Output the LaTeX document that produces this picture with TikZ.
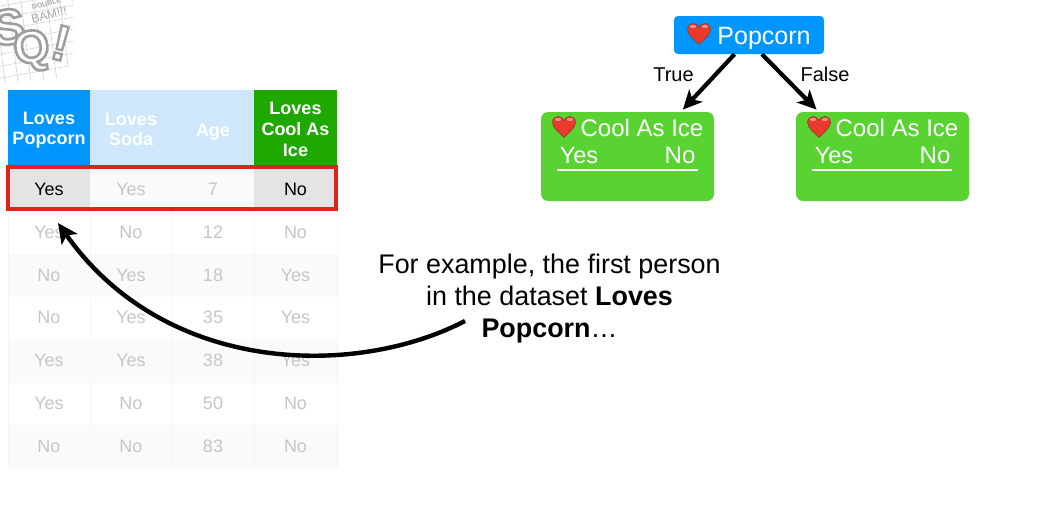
\documentclass[tikz,border=0pt]{standalone}
\usepackage{fontspec}
\setmainfont{Liberation Sans}
\usetikzlibrary{arrows.meta}
\definecolor{popblue}{HTML}{0096FF}
\definecolor{paleblue}{HTML}{CFE7FD}
\definecolor{hdgreen}{HTML}{1FA800}
\definecolor{nodegreen}{HTML}{58D332}
\definecolor{fadetxt}{HTML}{C6C6C6}
\definecolor{hlgrey}{HTML}{E4E4E4}
\definecolor{redbox}{HTML}{E3211B}
\definecolor{heartred}{HTML}{EA3A2C}
\definecolor{heartdark}{HTML}{8E3A30}
\definecolor{stripe}{HTML}{FAFAFA}
\definecolor{logogrey}{HTML}{A8A8A8}
\newcommand{\fs}[1]{\fontsize{#1}{#1}\selectfont}
\newcommand{\outlined}[2]{{\color{white}\special{pdf:code q 2 Tr #1 w 0.62 0.62 0.62 RG}#2\special{pdf:code Q}}}
\tikzset{
  cell/.style={minimum width=82pt,inner sep=0pt,anchor=center,text=fadetxt,font=\fs{18}},
  head/.style={minimum width=82pt,minimum height=75pt,inner sep=0pt,text=white,align=center,font=\bfseries\fs{18},text depth=0pt},
  root/.style={fill=popblue,rounded corners=4pt,minimum width=150pt,minimum height=38pt,inner sep=0pt,text=white,font=\fs{25},text height=18pt,text depth=0pt},
  leaf/.style={fill=nodegreen,rounded corners=7pt,minimum width=173pt,minimum height=89pt,inner sep=0pt},
  leaftxt/.style={text=white,inner sep=0pt,font=\fs{24}},
  edgelab/.style={inner sep=0pt,font=\fs{20}},
  branch/.style={line width=4.2pt,-{Stealth[length=19pt,width=18pt,inset=5pt]}},
  hearticon/.pic={
    \path[fill=heartred,draw=heartdark,line width=.6pt] (0,10.5) .. controls (-4,6) and (-11.5,1) .. (-11.5,-4.5) .. controls (-11.5,-8.5) and (-8.5,-10.5) .. (-6,-10.5) .. controls (-3.5,-10.5) and (-1,-9) .. (0,-6.5) .. controls (1,-9) and (3.5,-10.5) .. (6,-10.5) .. controls (8.5,-10.5) and (11.5,-8.5) .. (11.5,-4.5) .. controls (11.5,1) and (4,6) .. (0,10.5) -- cycle;
    \fill[white,opacity=.45] (-6,-7.5) ellipse (3.2pt and 1.5pt);
    \fill[white,opacity=.45] (6,-7.5) ellipse (3.2pt and 1.5pt);
  },
}
\begin{document}
\begin{tikzpicture}[x=1pt,y=-1pt]
\useasboundingbox (0,0) rectangle (1040,506);
\fill[white] (0,0) rectangle (1040,506);
% logo
\begin{scope}
\clip (4,-2) -- (73,-2) -- (73,60) -- (60,78) -- (2,84) -- (-2,84) -- (-2,0) -- cycle;
\foreach \k in {0,...,7}{
  \draw[logogrey!55,line width=.5pt] (-10,{8+\k*12}) -- (80,{-8+\k*12});
  \draw[logogrey!55,line width=.5pt] ({-6+\k*13},-6) -- ({6+\k*13},90);
}
\end{scope}
\node[rotate=8,inner sep=0pt] (logoS) at (8,27) {\bfseries\fs{50}\outlined{2.6}{S}};
\node[rotate=8,inner sep=0pt] (logoQ) at (32,51) {\bfseries\fs{46}\outlined{2.6}{Q}};
\node[rotate=-14,inner sep=0pt] (logoX) at (61,43) {\bfseries\fs{50}\outlined{2.4}{!}};
\node[rotate=14,inner sep=0pt,text=logogrey,align=center] (logoT) at (48,10) {\bfseries\fs{7}DOUBLE\\[1pt]\fs{12}BAM!!!};
% row stripes
\fill[stripe] (8,254) rectangle (337,296);
\fill[stripe] (8,339) rectangle (337,382);
\fill[stripe] (8,425) rectangle (337,467);
\foreach \x in {8,90,172,254,337}{\draw[black!4,line width=.6pt] (\x,211) -- (\x,467);}
\foreach \y in {254,296,339,382,425,467}{\draw[black!2,line width=.5pt] (8,\y) -- (337,\y);}
% header
\fill[popblue] (8,90) rectangle (90,165);
\fill[paleblue] (90,90) rectangle (254,165);
\fill[hdgreen] (254,90) rectangle (337,165);
\node[head] (h1) at (49,128) {Loves\\[2pt]Popcorn};
\node[head] (h2) at (131,129) {Loves\\[2pt]Soda};
\node[head] (h3) at (213,130) {Age};
\node[head] (h4) at (295.5,129.5) {Loves\\[3pt]Cool As\\[3pt]Ice};
% highlighted row
\fill[hlgrey] (8,166) rectangle (90,210);
\fill[stripe] (90,166) rectangle (254,210);
\fill[hlgrey] (254,166) rectangle (337,210);
\node[cell,text=black] (r1a) at (49,189) {Yes};
\node[cell] (r1b) at (131,189) {Yes};
\node[cell] (r1c) at (213,189) {7};
\node[cell,text=black] (r1d) at (295.5,189) {No};
\draw[redbox,line width=4pt] (8,167) rectangle (336,209);
% body
\foreach \nm/\y/\a/\b/\c/\d in {
  r2/232/Yes/No/12/No, r3/275/No/Yes/18/Yes, r4/317/No/Yes/35/Yes,
  r5/360/Yes/Yes/38/Yes, r6/403/Yes/No/50/No, r7/446/No/No/83/No}{
  \node[cell] (\nm a) at (49,\y) {\a};
  \node[cell] (\nm b) at (131,\y) {\b};
  \node[cell] (\nm c) at (213,\y) {\c};
  \node[cell] (\nm d) at (295.5,\y) {\d};
}
% tree
\node[root] (pop) at (749,35) {\hspace*{30pt}Popcorn};
\pic at (699,34) {hearticon};
\node[leaf] (cool1) at (627.5,156.5) {};
\node[leaf] (cool2) at (882.5,156.5) {};
\node[leaftxt] (c1t) at (642,127.5) {Cool As Ice};
\pic at (564,127) {hearticon};
\node[leaftxt,font=\fs{23.5}] (c1y) at (579,156) {Yes};
\node[leaftxt] (c1n) at (680,155) {No};
\node[leaftxt] (c2t) at (897,127.5) {Cool As Ice};
\pic at (819,127) {hearticon};
\node[leaftxt,font=\fs{23.5}] (c2y) at (834,156) {Yes};
\node[leaftxt] (c2n) at (935,155) {No};
\coordinate (c1a) at (557,170); \coordinate (c1b) at (698,170);
\coordinate (c2a) at (812,170); \coordinate (c2b) at (952,170);
\draw[white,line width=1.6pt] (c1a) -- (c1b);
\draw[white,line width=1.6pt] (c2a) -- (c2b);
\draw[branch,shorten >=3pt] (pop.233.6) -- (cool1.40.3);
\draw[branch,shorten >=3pt] (pop.304.4) -- (cool2.145.8);
\node[edgelab] (ltrue) at (673.5,74.5) {True};
\node[edgelab] (lfalse) at (825,74.5) {False};
% caption
\node[align=center,inner sep=0pt,font=\fs{26.9}] (cap) at (549.5,299) {For example, the first person\\[5.1pt]in the dataset \textbf{Loves}\\[5.1pt]\textbf{Popcorn}…};
\coordinate (arrS) at (465,321);
\coordinate (arrE) at (58,223);
\draw[line width=4.4pt,-{Stealth[length=20pt,width=19pt,inset=5pt]}] (arrS) .. controls (355,378) and (165,375) .. (arrE);
\end{tikzpicture}
\end{document}
